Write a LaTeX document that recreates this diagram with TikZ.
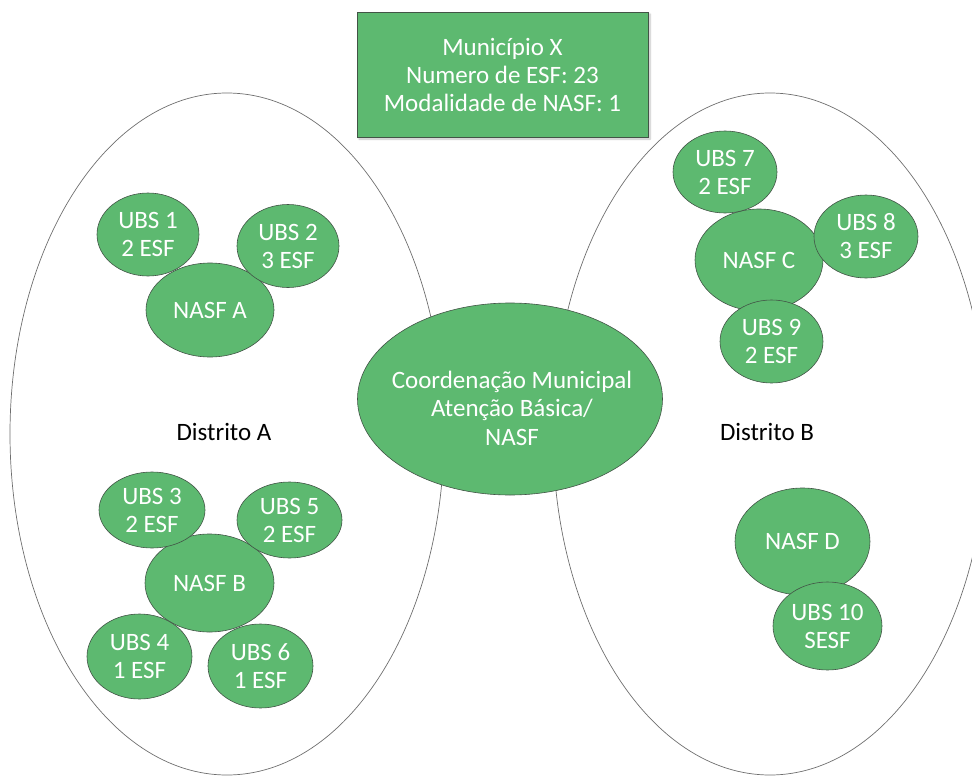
\documentclass[tikz,border=0pt]{standalone}
\usepackage{fontspec}
\setmainfont{Carlito}
\usetikzlibrary{shapes.geometric,shadows.blur}
\definecolor{gfill}{RGB}{93,185,112}
\definecolor{gline}{RGB}{66,84,70}
\definecolor{dline}{RGB}{110,110,110}
\begin{document}
\begin{tikzpicture}[x=1pt,y=-1pt,
  txt/.style={font=\fontsize{25}{28}\selectfont, align=center},
  blob/.style={ellipse, draw=gline, line width=0.6pt, fill=gfill, text=white, txt, inner sep=0pt},
  distrito/.style={ellipse, draw=dline, line width=0.7pt, inner sep=0pt, minimum width=434pt, minimum height=682pt},
  topbox/.style={rectangle, draw=gline, line width=0.8pt, fill=gfill, text=white, txt,
    minimum width=291pt, minimum height=125pt, inner sep=0pt,
    blur shadow={shadow xshift=2pt, shadow yshift=-2pt, shadow blur steps=6, shadow opacity=25}},
  lbl/.style={txt, text=black}
]
\useasboundingbox (0,0) rectangle (972,776);
\clip (0,0) rectangle (972,776);
% district ellipses
\node[distrito] (dA) at (227,434) {};
\node[distrito] (dB) at (770,434) {};
% central coordination
\node[blob, minimum width=305pt, minimum height=192pt] (coord) at (510,399) {};
\node[txt, text=white, font=\fontsize{25}{28.5}\selectfont] (coordtxt) at (512,408) {Coordenação Municipal\\Atenção Básica/\\NASF};
% top box
\node[topbox] (mun) at (502.5,74.5) {Município X\\Numero de ESF: 23\\Modalidade de NASF: 1};
% NASF nodes
\node[blob, minimum width=128pt, minimum height=94pt] (nA) at (210,310) {NASF A};
\node[blob, minimum width=129pt, minimum height=98pt] (nB) at (209.5,583) {NASF B};
\node[blob, minimum width=128pt, minimum height=102pt] (nC) at (759,260) {NASF C};
\node[blob, minimum width=135pt, minimum height=107pt] (nD) at (802.5,541.5) {NASF D};
% UBS nodes
\node[blob, minimum width=102pt, minimum height=83pt] (u1) at (148,234.5) {UBS 1\\2 ESF};
\node[blob, minimum width=102pt, minimum height=83pt] (u2) at (288,246) {UBS 2\\3 ESF};
\node[blob, minimum width=106pt, minimum height=76pt] (u3) at (152,510) {UBS 3\\2 ESF};
\node[blob, minimum width=105pt, minimum height=76pt] (u5) at (289.5,520) {UBS 5\\2 ESF};
\node[blob, minimum width=105pt, minimum height=85pt] (u4) at (139.5,656.5) {UBS 4\\1 ESF};
\node[blob, minimum width=105pt, minimum height=84pt] (u6) at (260.5,666) {UBS 6\\1 ESF};
\node[blob, minimum width=104pt, minimum height=82pt] (u7) at (725,172) {UBS 7\\2 ESF};
\node[blob, minimum width=104pt, minimum height=83pt] (u8) at (866,236.5) {UBS 8\\3 ESF};
\node[blob, minimum width=103pt, minimum height=83pt] (u9) at (771.5,341.5) {UBS 9\\2 ESF};
\node[blob, minimum width=109pt, minimum height=88pt] (u10) at (827.5,626) {UBS 10\\SESF};
% district labels
\node[lbl] (lA) at (224,432) {Distrito A};
\node[lbl] (lB) at (767,432) {Distrito B};
\end{tikzpicture}
\end{document}
